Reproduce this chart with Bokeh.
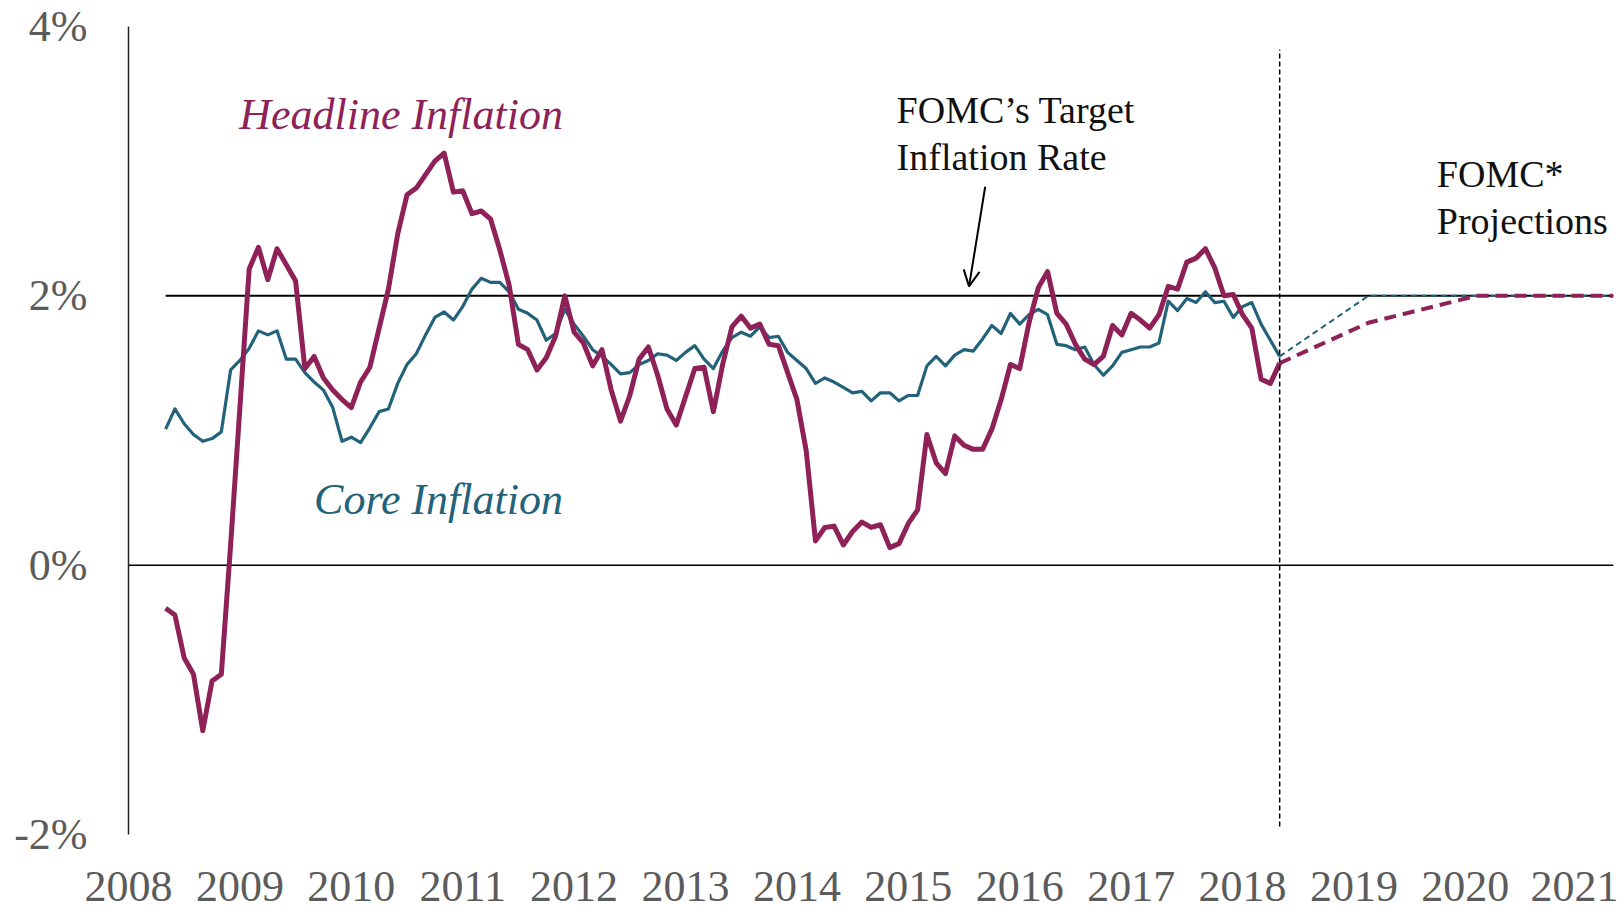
from bokeh.plotting import figure
from bokeh.models import Range1d, FixedTicker, Label, Arrow, OpenHead
from bokeh.embed import file_html
from bokeh.resources import INLINE

# ---------------- data ----------------
# monthly observations, position = 2008 + month_index/12 (month_index 4 = first point)
month_index = list(range(4, 125))

headline = [
    -0.32, -0.37, -0.69, -0.81, -1.23, -0.86, -0.81, 0.15, 1.17, 2.20, 2.36, 2.12,
    2.35, 2.23, 2.11, 1.46, 1.55, 1.39, 1.30, 1.23, 1.17, 1.36, 1.47, 1.76,
    2.05, 2.46, 2.75, 2.80, 2.90, 3.00, 3.06, 2.77, 2.78, 2.61, 2.63, 2.57,
    2.34, 2.08, 1.64, 1.60, 1.45, 1.54, 1.70, 2.00, 1.73, 1.65, 1.48, 1.60,
    1.30, 1.07, 1.26, 1.53, 1.62, 1.41, 1.16, 1.04, 1.25, 1.46, 1.47, 1.14,
    1.49, 1.77, 1.85, 1.76, 1.79, 1.64, 1.63, 1.43, 1.23, 0.85, 0.18, 0.28,
    0.29, 0.15, 0.25, 0.32, 0.28, 0.30, 0.13, 0.16, 0.31, 0.41, 0.97, 0.76,
    0.68, 0.96, 0.89, 0.86, 0.86, 1.01, 1.23, 1.49, 1.46, 1.80, 2.06, 2.18,
    1.87, 1.79, 1.64, 1.53, 1.49, 1.55, 1.78, 1.71, 1.87, 1.82, 1.76, 1.86,
    2.07, 2.05, 2.25, 2.28, 2.35, 2.21, 2.00, 2.01, 1.86, 1.76, 1.38, 1.35,
    1.50,
]

core = [
    1.01, 1.16, 1.05, 0.97, 0.92, 0.94, 0.99, 1.45, 1.52, 1.61, 1.74, 1.71,
    1.74, 1.53, 1.53, 1.43, 1.36, 1.30, 1.17, 0.92, 0.95, 0.91, 1.02, 1.14,
    1.16, 1.35, 1.49, 1.57, 1.71, 1.84, 1.88, 1.82, 1.92, 2.05, 2.13, 2.10,
    2.10, 2.03, 1.90, 1.87, 1.82, 1.67, 1.72, 1.90, 1.79, 1.70, 1.60, 1.55,
    1.49, 1.42, 1.43, 1.49, 1.52, 1.57, 1.56, 1.52, 1.58, 1.63, 1.53, 1.46,
    1.59, 1.69, 1.73, 1.70, 1.77, 1.69, 1.70, 1.58, 1.52, 1.46, 1.35, 1.39,
    1.36, 1.32, 1.28, 1.29, 1.22, 1.28, 1.28, 1.22, 1.26, 1.26, 1.48, 1.55,
    1.48, 1.56, 1.60, 1.59, 1.68, 1.78, 1.72, 1.87, 1.79, 1.86, 1.90, 1.86,
    1.64, 1.63, 1.60, 1.62, 1.49, 1.41, 1.48, 1.58, 1.60, 1.62, 1.62, 1.65,
    1.96, 1.89, 1.98, 1.95, 2.03, 1.95, 1.96, 1.84, 1.92, 1.95, 1.79, 1.67,
    1.55,
]

proj_x = [2018.333, 2019.13, 2020.1, 2021.33]
proj_headline = [1.50, 1.80, 2.00, 2.00]
proj_core = [1.55, 2.00, 2.00, 2.00]

target_rate = 2.0
year_ticks = list(range(2008, 2022))
y_ticks = [-2, 0, 2, 4]
y_tick_labels = ["-2%", "0%", "2%", "4%"]

x = [2008 + m / 12 for m in month_index]

# ---------------- style ----------------
HEAD = "#8E2157"
CORE = "#22627B"
TICK = "#5b5b5b"
FONT = "Liberation Serif"
X_END = 2021.33

p = figure(width=1618, height=908, output_backend="svg", toolbar_location=None,
           x_range=Range1d(2008, X_END), y_range=Range1d(-2, 4),
           min_border_left=128, min_border_right=5, min_border_top=26,
           min_border_bottom=74)
p.grid.visible = False
p.outline_line_color = None
p.background_fill_color = "white"
p.border_fill_color = "white"

# x axis
p.xaxis.ticker = FixedTicker(ticks=year_ticks)
p.xaxis.axis_line_color = None
p.xaxis.major_tick_line_color = None
p.xaxis.minor_tick_line_color = None
p.xaxis.major_tick_out = 0
p.xaxis.major_label_standoff = 37
p.xaxis.major_label_text_font = FONT
p.xaxis.major_label_text_font_size = "44px"
p.xaxis.major_label_text_color = TICK

# y axis
p.yaxis.ticker = FixedTicker(ticks=y_ticks)
p.yaxis.major_label_overrides = dict(zip(y_ticks, y_tick_labels))
p.yaxis.axis_line_color = "#222222"
p.yaxis.axis_line_width = 1.5
p.yaxis.major_tick_line_color = None
p.yaxis.minor_tick_line_color = None
p.yaxis.major_tick_out = 0
p.yaxis.major_label_standoff = 41
p.yaxis.major_label_text_font = FONT
p.yaxis.major_label_text_font_size = "44px"
p.yaxis.major_label_text_color = TICK

# reference lines
p.segment(x0=[2008], y0=[0], x1=[X_END], y1=[0], line_color="black", line_width=1.5)
p.segment(x0=[x[0]], y0=[target_rate], x1=[X_END], y1=[target_rate],
          line_color="black", line_width=2)

# projections
p.line(proj_x, proj_core, line_color=CORE, line_width=2, line_dash="6 4")
p.line(proj_x, proj_headline, line_color=HEAD, line_width=4, line_dash="12 7")

# series
p.line(x, core, line_color=CORE, line_width=3.2, line_join="round")
p.line(x, headline, line_color=HEAD, line_width=5, line_join="round")

# vertical dashed separator at last observation
p.segment(x0=[x[-1]], y0=[-1.94], x1=[x[-1]], y1=[3.83], line_color="black",
          line_width=1.5, line_dash="5 3")

# annotations
p.add_layout(Label(x=2011.90, y=3.345, text="Headline Inflation", text_font=FONT,
                   text_font_style="italic", text_font_size="44px", text_color=HEAD,
                   text_align="right", text_baseline="alphabetic"))
p.add_layout(Label(x=2011.90, y=0.485, text="Core Inflation", text_font=FONT,
                   text_font_style="italic", text_font_size="44px", text_color=CORE,
                   text_align="right", text_baseline="alphabetic"))
p.add_layout(Label(x=2014.895, y=3.38, text="FOMC\u2019s Target", text_font=FONT,
                   text_font_size="38px", text_color="#111111",
                   text_align="left", text_baseline="alphabetic"))
p.add_layout(Label(x=2014.895, y=3.03, text="Inflation Rate", text_font=FONT,
                   text_font_size="38px", text_color="#111111",
                   text_align="left", text_baseline="alphabetic"))
p.add_layout(Label(x=2019.744, y=2.905, text="FOMC*", text_font=FONT,
                   text_font_size="38px", text_color="#111111",
                   text_align="left", text_baseline="alphabetic"))
p.add_layout(Label(x=2019.744, y=2.555, text="Projections", text_font=FONT,
                   text_font_size="38px", text_color="#111111",
                   text_align="left", text_baseline="alphabetic"))
p.add_layout(Arrow(end=OpenHead(size=16, line_width=2, line_color="black"),
                   x_start=2015.69, y_start=2.81, x_end=2015.545, y_end=2.07,
                   line_width=2, line_color="black"))

open("out.html", "w").write(file_html(p, INLINE))
